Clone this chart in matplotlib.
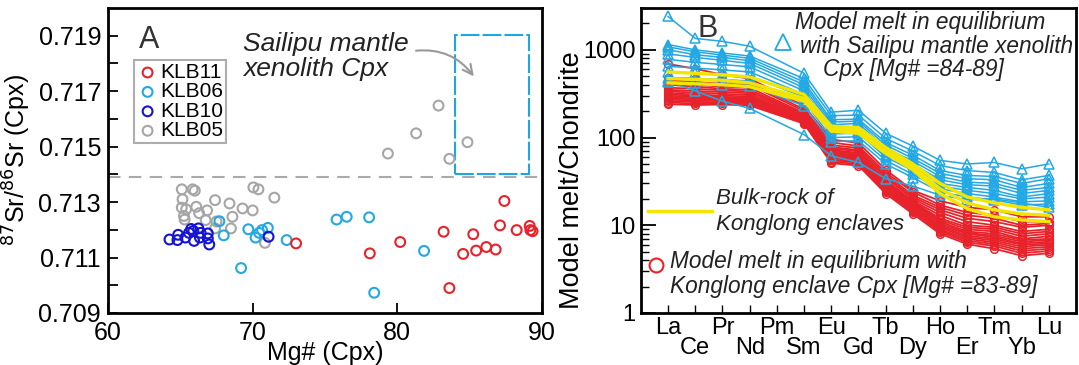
import matplotlib.pyplot as plt
from matplotlib.patches import Rectangle
from matplotlib.ticker import FixedLocator, LogLocator, NullFormatter, FuncFormatter

plt.rcParams['font.family'] = ['Liberation Sans', 'DejaVu Sans']

# ---- panel A: 87Sr/86Sr vs Mg# of Cpx ----
klb05_mg = [65.1, 65.15, 65.1, 65.4, 65.25, 65.3, 65.85, 66.0, 66.1, 66.3, 66.75, 66.85,
            67.4, 67.5, 67.4, 68.4, 68.6, 68.5, 69.3, 70.0, 70.05, 70.4, 71.5, 70.85,
            79.35, 81.3, 82.85, 83.6, 84.85]
klb05_sr = [0.71346, 0.7131, 0.7128, 0.71274, 0.7125, 0.71237, 0.71346, 0.71341, 0.71283,
            0.7126, 0.71235, 0.7127, 0.71307, 0.7123, 0.71205, 0.71295, 0.71247, 0.71205,
            0.71277, 0.7127, 0.71353, 0.71346, 0.71316, 0.71153,
            0.71475, 0.71548, 0.71648, 0.71456, 0.71516]

klb06_mg = [67.7, 68.0, 69.7, 69.2, 70.2, 70.45, 70.65, 71.05, 72.35, 75.8, 76.5, 78.05,
            81.85, 78.4]
klb06_sr = [0.71231, 0.7118, 0.71202, 0.71062, 0.71172, 0.71189, 0.71199, 0.71207,
            0.71163, 0.71237, 0.71247, 0.71245, 0.71124, 0.70973]

klb10_mg = [64.25, 64.8, 64.85, 65.35, 65.6, 65.75, 65.9, 65.95, 66.25, 66.35, 66.4,
            66.9, 66.9, 67.0, 71.1]
klb10_sr = [0.71165, 0.71163, 0.71182, 0.71172, 0.71189, 0.71203, 0.71196, 0.7116,
            0.71205, 0.71172, 0.71189, 0.71187, 0.71169, 0.71147, 0.71175]

klb11_mg = [73.0, 78.1, 80.2, 83.2, 83.6, 84.55, 85.25, 85.45, 86.15, 86.8, 87.1, 87.4,
            88.25, 89.15, 89.2, 89.35]
klb11_sr = [0.71151, 0.71115, 0.71156, 0.71193, 0.7099, 0.71113, 0.71184, 0.71125,
            0.71138, 0.71129, 0.71216, 0.71304, 0.71199, 0.71214, 0.71199, 0.71195]

sr_threshold = 0.7139          # grey dashed line
sailipu_mg = (84.0, 89.1)      # blue dashed box
sailipu_sr = (0.714, 0.71904)

# ---- panel B: REE patterns ----
ree = ['La', 'Ce', 'Pr', 'Nd', 'Pm', 'Sm', 'Eu', 'Gd', 'Tb', 'Dy', 'Ho', 'Er', 'Tm', 'Yb', 'Lu']
measured = ['La', 'Ce', 'Pr', 'Nd', 'Sm', 'Eu', 'Gd', 'Tb', 'Dy', 'Ho', 'Er', 'Tm', 'Yb', 'Lu']

sailipu_melts = [
    [2400, 1350, 1250, 1100, 540, 195, 205, 112, 80, 55, 50, 52, 44, 50],
    [1150, 1000, 920, 850, 470, 178, 180, 98, 70, 48, 42, 40, 33, 37],
    [1080, 950, 870, 800, 430, 160, 162, 88, 63, 42, 37, 36, 30, 34],
    [1000, 880, 820, 750, 400, 150, 154, 82, 58, 39, 34, 33, 27, 30],
    [900, 820, 760, 700, 370, 140, 145, 76, 54, 36, 31, 30, 25, 27],
    [780, 720, 680, 640, 340, 130, 132, 70, 50, 33, 29, 28, 23, 25],
    [650, 620, 590, 560, 310, 118, 120, 64, 46, 30, 27, 25, 21, 23],
    [560, 540, 520, 500, 290, 110, 112, 60, 42, 28, 25, 23, 20, 21],
    [480, 470, 460, 440, 260, 100, 102, 55, 38, 26, 23, 21, 18.5, 19],
    [430, 420, 400, 390, 230, 90, 92, 50, 35, 24, 21, 19.5, 17, 17.5],
    [440, 340, 260, 215, 108, 62, 52, 34, 28, 22, 19.5, 20, 18, 16],
]

konglong_melts = [
    [690, 610, 520, 470, 230, 95, 87, 43, 25, 19, 16, 15, 12.5, 12.5],
    [480, 470, 440, 420, 210, 88, 80, 40, 24, 17, 14, 13, 11, 11],
    [450, 430, 410, 400, 200, 82, 76, 38, 22, 16, 13, 12, 10, 10.5],
    [420, 400, 380, 370, 190, 78, 72, 36, 21, 15, 12, 11, 9.5, 10],
    [400, 380, 360, 350, 185, 75, 70, 35, 20, 14, 11, 10, 8.5, 9],
    [370, 360, 345, 335, 180, 72, 67, 33, 19, 13, 10, 9.5, 8, 8.5],
    [350, 340, 330, 320, 175, 70, 65, 32, 18.5, 12, 9.5, 9, 7.5, 8],
    [335, 325, 315, 305, 170, 68, 63, 31, 18, 11.5, 9, 8.5, 7, 7.5],
    [320, 310, 300, 295, 165, 66, 61, 30, 17.5, 11, 8.5, 8, 6.8, 7],
    [310, 300, 290, 285, 162, 64, 60, 29, 17, 10.5, 8.2, 7.6, 6.5, 6.8],
    [300, 290, 282, 278, 160, 62, 58, 28, 16.5, 10, 8, 7.3, 6.2, 6.5],
    [290, 280, 275, 270, 157, 60, 57, 27, 16, 9.7, 7.6, 7, 6, 6.2],
    [280, 272, 268, 262, 154, 58, 55, 26, 15.5, 9.4, 7.3, 6.7, 5.7, 6],
    [270, 265, 260, 255, 150, 56, 53, 25, 15, 9, 7, 6.4, 5.4, 5.7],
    [260, 255, 252, 248, 148, 55, 52, 24.5, 14.5, 8.7, 6.7, 6.1, 5.1, 5.4],
    [250, 245, 245, 240, 146, 53, 50, 24, 14, 8.4, 6.4, 5.8, 4.8, 5.1],
    [240, 235, 238, 232, 144, 51, 48, 23, 13.5, 8, 6.1, 5.4, 4.5, 4.8],
]

bulk_rock = [
    [560, 540, 520, 490, 310, 135, 130, 77, 50, 30, 21, 18, 16, 15],
    [470, 460, 450, 420, 280, 125, 120, 70, 46, 26, 18, 15, 13.5, 13],
    [420, 410, 400, 380, 260, 118, 112, 66, 43, 23, 15.5, 12.5, 11.5, 11],
]

RED = '#e8222a'
LBLUE = '#22a8e4'
DBLUE = '#1414d2'
GREY = '#a6a6a6'
YELLOW = '#f2e600'
TXT = '#222222'

fig = plt.figure(figsize=(10.79, 3.65), dpi=100)
axA = fig.add_axes([0.1001, 0.1425, 0.4022, 0.8356])
axB = fig.add_axes([0.594, 0.1425, 0.4032, 0.8356])

# ================= panel A =================
ms = 50
axA.scatter(klb05_mg, klb05_sr, s=ms, facecolors='none', edgecolors=GREY, linewidths=1.5, label='KLB05', zorder=3)
axA.scatter(klb06_mg, klb06_sr, s=ms, facecolors='none', edgecolors=LBLUE, linewidths=1.5, label='KLB06', zorder=3)
axA.scatter(klb10_mg, klb10_sr, s=ms, facecolors='none', edgecolors=DBLUE, linewidths=1.5, label='KLB10', zorder=3)
axA.scatter(klb11_mg, klb11_sr, s=ms, facecolors='none', edgecolors=RED, linewidths=1.5, label='KLB11', zorder=3)

axA.axhline(sr_threshold, color='#aaaaaa', lw=1.5, dashes=(6, 4), zorder=2)
axA.add_patch(Rectangle((sailipu_mg[0], sailipu_sr[0]), sailipu_mg[1] - sailipu_mg[0],
                        sailipu_sr[1] - sailipu_sr[0], fill=False, edgecolor='#1ea6e2',
                        lw=1.5, ls=(0, (9, 1.5)), zorder=2))

axA.set_xlim(60, 90)
axA.set_ylim(0.709, 0.720)
axA.xaxis.set_major_locator(FixedLocator([60, 70, 80, 90]))
axA.yaxis.set_major_locator(FixedLocator([0.709, 0.711, 0.713, 0.715, 0.717, 0.719]))
axA.yaxis.set_minor_locator(FixedLocator([0.710, 0.712, 0.714, 0.716, 0.718]))
axA.yaxis.set_major_formatter(FuncFormatter(lambda v, p: f'{v:.3f}'))
axA.tick_params(which='both', direction='in', labelsize=18, width=1.3, length=7)
axA.tick_params(axis='y', pad=5)
axA.tick_params(axis='x', pad=6)
axA.set_xlabel('Mg# (Cpx)', fontsize=18, labelpad=-3)
axA.set_ylabel('$^{87}$Sr/$^{86}$Sr (Cpx)', fontsize=18, labelpad=4)

handles, labels = axA.get_legend_handles_labels()
order = [labels.index(n) for n in ['KLB11', 'KLB06', 'KLB10', 'KLB05']]
leg = axA.legend([handles[i] for i in order], [labels[i] for i in order],
                 loc='upper left', bbox_to_anchor=(0.06, 0.83), borderaxespad=0,
                 fontsize=15, handletextpad=0.1, labelspacing=0.02, borderpad=0.15,
                 handlelength=1.0, fancybox=False, frameon=True)
leg.get_frame().set_edgecolor('#999999')
leg.get_frame().set_linewidth(1.5)

axA.text(0.072, 0.895, 'A', transform=axA.transAxes, fontsize=22, color='#333333', va='center')
axA.text(0.311, 0.84, 'Sailipu mantle\nxenolith Cpx', transform=axA.transAxes,
         fontsize=19, style='italic', color=TXT, va='center', linespacing=1.05)
axA.annotate('', xy=(85.4, 0.71745), xytext=(81.1, 0.71845),
             arrowprops=dict(arrowstyle='->,head_length=0.7,head_width=0.35', color='#999999',
                             lw=1.5, connectionstyle='arc3,rad=-0.3'))

# ================= panel B =================
xs = [ree.index(e) for e in measured]
for row in konglong_melts:
    axB.plot(xs, row, color=RED, lw=1.3, marker='o', ms=5.5, mfc='none', mew=1.1, zorder=2)
for row in sailipu_melts:
    axB.plot(xs, row, color=LBLUE, lw=1.1, marker='^', ms=7, mfc='none', mew=1.1, zorder=3)
for row in bulk_rock:
    axB.plot(xs, row, color=YELLOW, lw=2.4, zorder=4)

axB.set_yscale('log')
axB.set_ylim(1, 3000)
axB.set_xlim(-1, 15)
axB.yaxis.set_major_locator(FixedLocator([1, 10, 100, 1000]))
axB.yaxis.set_major_formatter(FuncFormatter(lambda v, p: f'{v:g}'))
axB.yaxis.set_minor_locator(LogLocator(base=10, subs=range(2, 10)))
axB.yaxis.set_minor_formatter(NullFormatter())
axB.set_xticks(range(0, len(ree), 2), ree[0::2])
axB.set_xticks(range(1, len(ree), 2), ree[1::2], minor=True)
axB.tick_params(axis='y', which='major', direction='in', length=11, width=1.3, labelsize=17, pad=4)
axB.tick_params(axis='y', which='minor', direction='in', length=6, width=1.0)
axB.tick_params(axis='x', which='both', direction='in', length=6, width=1.0, labelsize=17)
axB.tick_params(axis='x', which='major', pad=3)
axB.tick_params(axis='x', which='minor', pad=17)
axB.set_ylabel('Model melt/Chondrite', fontsize=19.5)
axB.yaxis.set_label_coords(-0.128, 0.436)

axB.text(0.13, 0.93, 'B', transform=axB.transAxes, fontsize=22, color='#333333', va='center')
axB.plot([0.326], [0.89], transform=axB.transAxes, marker='^', ms=11, mfc='none',
         mec=LBLUE, mew=1.3, clip_on=False)
sailipu_note = ['Model melt in equilibrium', 'with Sailipu mantle xenolith', 'Cpx [Mg# =84-89]']
for txt, xl, yl in zip(sailipu_note, [0.354, 0.366, 0.418], [0.954, 0.875, 0.797]):
    axB.text(xl, yl, txt, transform=axB.transAxes, fontsize=16.3, style='italic',
             color=TXT, va='center')
axB.plot([0.016, 0.163], [0.334, 0.334], transform=axB.transAxes, color=YELLOW, lw=2.4)
axB.text(0.172, 0.332, 'Bulk-rock of\nKonglong enclaves', transform=axB.transAxes,
         fontsize=16, style='italic', color=TXT, va='center', linespacing=1.3)
axB.plot([0.034], [0.157], transform=axB.transAxes, marker='o', ms=10, mfc='none',
         mec=RED, mew=1.5)
axB.text(0.067, 0.128, 'Model melt in equilibrium with\nKonglong enclave Cpx [Mg# =83-89]',
         transform=axB.transAxes, fontsize=16.3, style='italic', color=TXT,
         va='center', linespacing=1.1)

for ax in (axA, axB):
    for sp in ax.spines.values():
        sp.set_linewidth(2.0)

fig.savefig('out.png', dpi=100)
